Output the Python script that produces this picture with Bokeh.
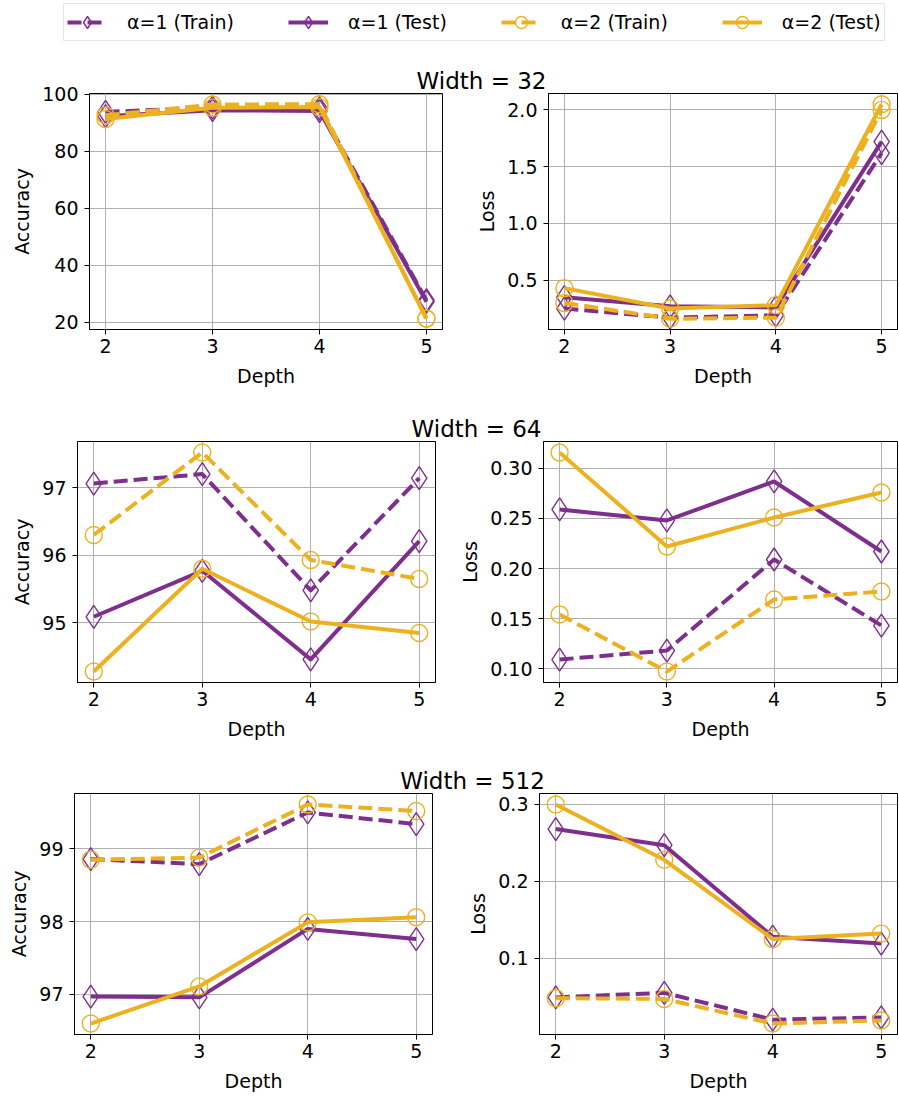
from bokeh.plotting import figure
from bokeh.layouts import column, row
from bokeh.models import Range1d, FixedTicker, Legend, LegendItem, Label
from bokeh.embed import file_html
from bokeh.resources import INLINE

# ---------------- data ----------------
depth = [2, 3, 4, 5]

series_labels = ["α=1 (Train)", "α=1 (Test)", "α=2 (Train)", "α=2 (Test)"]

# Width = 32
w32_acc_a1_train = [93.8, 95.3, 95.0, 27.8]
w32_acc_a1_test = [92.3, 94.4, 94.1, 27.3]
w32_acc_a2_train = [92.6, 96.4, 96.5, 21.3]
w32_acc_a2_test = [91.3, 95.3, 95.5, 21.4]
w32_loss_a1_train = [0.25, 0.17, 0.19, 1.62]
w32_loss_a1_test = [0.35, 0.27, 0.26, 1.72]
w32_loss_a2_train = [0.30, 0.16, 0.17, 2.00]
w32_loss_a2_test = [0.43, 0.25, 0.28, 2.05]

# Width = 64
w64_acc_a1_train = [97.06, 97.20, 95.48, 97.14]
w64_acc_a1_test = [95.09, 95.77, 94.46, 96.21]
w64_acc_a2_train = [96.30, 97.52, 95.93, 95.65]
w64_acc_a2_test = [94.28, 95.80, 95.02, 94.85]
w64_loss_a1_train = [0.109, 0.118, 0.209, 0.143]
w64_loss_a1_test = [0.259, 0.248, 0.287, 0.217]
w64_loss_a2_train = [0.154, 0.097, 0.169, 0.177]
w64_loss_a2_test = [0.316, 0.222, 0.251, 0.276]

# Width = 512
w512_acc_a1_train = [98.86, 98.79, 99.50, 99.34]
w512_acc_a1_test = [96.97, 96.96, 97.90, 97.76]
w512_acc_a2_train = [98.85, 98.88, 99.61, 99.52]
w512_acc_a2_test = [96.60, 97.11, 97.99, 98.06]
w512_loss_a1_train = [0.049, 0.055, 0.020, 0.023]
w512_loss_a1_test = [0.268, 0.247, 0.128, 0.119]
w512_loss_a2_train = [0.048, 0.047, 0.015, 0.019]
w512_loss_a2_test = [0.300, 0.228, 0.125, 0.132]

# tick values / labels
x_ticks = [2, 3, 4, 5]
acc32_ticks = [20, 40, 60, 80, 100]
acc32_labels = ["20", "40", "60", "80", "100"]
loss32_ticks = [0.5, 1.0, 1.5, 2.0]
loss32_labels = ["0.5", "1.0", "1.5", "2.0"]
acc64_ticks = [95, 96, 97]
acc64_labels = ["95", "96", "97"]
loss64_ticks = [0.10, 0.15, 0.20, 0.25, 0.30]
loss64_labels = ["0.10", "0.15", "0.20", "0.25", "0.30"]
acc512_ticks = [97, 98, 99]
acc512_labels = ["97", "98", "99"]
loss512_ticks = [0.1, 0.2, 0.3]
loss512_labels = ["0.1", "0.2", "0.3"]

row_titles = ["Width = 32", "Width = 64", "Width = 512"]

# ---------------- style ----------------
PURPLE = "#7E2F8E"
ORANGE = "#EDB120"
FONT = "DejaVu Sans"
DASH = "14 6"
styles = [
    (PURPLE, DASH, "diamond", 23),
    (PURPLE, "solid", "diamond", 23),
    (ORANGE, DASH, "circle", 17),
    (ORANGE, "solid", "circle", 17),
]
TOTAL_W = 899
TITLE_X = [481, 476, 472]
OVERLAP = 11


def make_panel(ys, ylabel, yticks, ylabels, width, height, bl, br, bt, bb):
    lo = min(min(y) for y in ys)
    hi = max(max(y) for y in ys)
    pad = 0.05 * (hi - lo)
    xpad = 0.05 * (max(depth) - min(depth))
    p = figure(width=width, height=height,
               x_range=Range1d(min(depth) - xpad, max(depth) + xpad),
               y_range=Range1d(lo - pad, hi + pad),
               output_backend="svg", toolbar_location=None,
               min_border_left=bl, min_border_right=br,
               min_border_top=bt, min_border_bottom=bb)
    p.background_fill_color = "white"
    p.border_fill_color = "white"
    p.border_fill_alpha = 0
    p.outline_line_color = "black"
    p.outline_line_width = 1
    p.outline_line_alpha = 1

    p.xaxis.ticker = FixedTicker(ticks=x_ticks)
    p.yaxis.ticker = FixedTicker(ticks=yticks)
    p.yaxis.major_label_overrides = {t: l for t, l in zip(yticks, ylabels)}
    p.xaxis.axis_label = "Depth"
    p.yaxis.axis_label = ylabel
    for ax in p.axis:
        ax.major_label_text_font = FONT
        ax.major_label_text_font_size = "19px"
        ax.major_label_text_color = "black"
        ax.axis_label_text_font = FONT
        ax.axis_label_text_font_size = "19px"
        ax.axis_label_text_font_style = "normal"
        ax.axis_label_text_color = "black"
        ax.major_tick_out = 5
        ax.major_tick_in = 0
        ax.minor_tick_line_color = None
        ax.axis_line_color = "black"
        ax.major_tick_line_color = "black"
    p.xaxis.major_label_standoff = 4
    p.xaxis.axis_label_standoff = 9
    p.yaxis.major_label_standoff = 6
    p.yaxis.axis_label_standoff = 6
    for g in p.grid:
        g.grid_line_color = "#b0b0b0"
        g.grid_line_width = 1

    for y, (col, dash, mk, sz) in zip(ys, styles):
        p.line(depth, y, line_color=col, line_width=4, line_dash=dash,
               line_join="round")
        p.scatter(depth, y, marker=mk, size=sz, fill_color=None,
                  line_color=col, line_width=1.4)
    return p


def title_fig(text, h, x, base):
    t = figure(width=TOTAL_W, height=h, x_range=Range1d(0, TOTAL_W),
               y_range=Range1d(0, h), x_axis_location=None,
               y_axis_location=None, output_backend="svg",
               toolbar_location=None, min_border=0)
    t.outline_line_color = None
    t.grid.visible = False
    t.add_layout(Label(x=x, y=base, text=text, text_font=FONT,
                       text_font_size="23px", text_color="black",
                       text_align="center", text_baseline="alphabetic"))
    return t


# legend figure (renderers carry real data but lie outside its view)
lf = figure(width=TOTAL_W, height=46, x_range=Range1d(0, 1),
            y_range=Range1d(0, 1), x_axis_location=None,
            y_axis_location=None, output_backend="svg",
            toolbar_location=None, min_border=0)
lf.outline_line_color = None
lf.grid.visible = False
items = []
legend_series = [w32_acc_a1_train, w32_acc_a1_test, w32_acc_a2_train, w32_acc_a2_test]
for lab, ys, (col, dash, mk, sz) in zip(series_labels, legend_series, styles):
    r1 = lf.line(depth, ys, line_color=col, line_width=4, line_dash=dash)
    r2 = lf.scatter(depth, ys, marker=mk, size=sz, fill_color=None,
                    line_color=col, line_width=1.4)
    items.append(LegendItem(label=lab, renderers=[r1, r2]))
legend = Legend(items=items, orientation="horizontal", location=(63, 5),
                margin=0, padding=3, spacing=54, label_standoff=20,
                glyph_width=40, glyph_height=30,
                label_text_font=FONT, label_text_font_size="19px",
                label_text_color="black",
                border_line_color="#cccccc", border_line_width=1,
                background_fill_color="white", background_fill_alpha=1)
lf.add_layout(legend, "center")

# panels (top border leaves room for the top tick label; rows overlap titles' bottom)
p11 = make_panel([w32_acc_a1_train, w32_acc_a1_test, w32_acc_a2_train, w32_acc_a2_test],
                 "Accuracy", acc32_ticks, acc32_labels, 450, 319, 89, 8, 12, 71)
p12 = make_panel([w32_loss_a1_train, w32_loss_a1_test, w32_loss_a2_train, w32_loss_a2_test],
                 "Loss", loss32_ticks, loss32_labels, 449, 319, 98, 2, 12, 71)
p21 = make_panel([w64_acc_a1_train, w64_acc_a1_test, w64_acc_a2_train, w64_acc_a2_test],
                 "Accuracy", acc64_ticks, acc64_labels, 450, 323, 77, 15, 12, 70)
p22 = make_panel([w64_loss_a1_train, w64_loss_a1_test, w64_loss_a2_train, w64_loss_a2_test],
                 "Loss", loss64_ticks, loss64_labels, 449, 323, 93, 2, 12, 70)
p31 = make_panel([w512_acc_a1_train, w512_acc_a1_test, w512_acc_a2_train, w512_acc_a2_test],
                 "Accuracy", acc512_ticks, acc512_labels, 450, 313, 74, 18, 12, 60)
p32 = make_panel([w512_loss_a1_train, w512_loss_a1_test, w512_loss_a2_train, w512_loss_a2_test],
                 "Loss", loss512_ticks, loss512_labels, 449, 313, 89, 2, 12, 60)

layout = column(lf,
                title_fig(row_titles[0], 46, TITLE_X[0], 12),
                row(p11, p12, margin=(-OVERLAP, 0, 0, 0)),
                title_fig(row_titles[1], 40, TITLE_X[1], 12),
                row(p21, p22, margin=(-OVERLAP, 0, 0, 0)),
                title_fig(row_titles[2], 40, TITLE_X[2], 12),
                row(p31, p32, margin=(-OVERLAP, 0, 0, 0)))

open("out.html", "w").write(file_html(layout, INLINE))
